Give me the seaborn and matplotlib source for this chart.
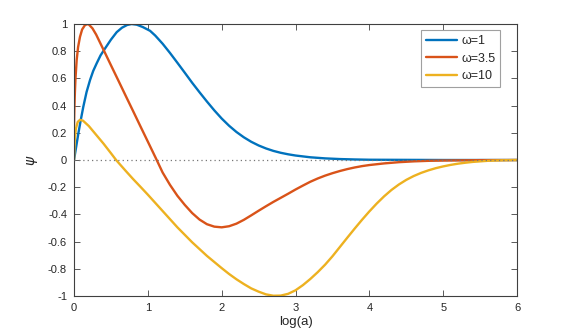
import numpy as np
import pandas as pd
import matplotlib
matplotlib.use("Agg")
import matplotlib.pyplot as plt
import seaborn as sns

# ---- data ----
labels = ["ω=1", "ω=3.5", "ω=10"]
colors = ["#0072BD", "#D95319", "#EDB120"]

x_w1 = [0.0, 0.03, 0.059, 0.09, 0.126, 0.17, 0.217, 0.26, 0.307, 0.36, 0.42, 0.5,
        0.578, 0.65, 0.72, 0.78, 0.85, 0.93, 1.03, 1.1, 1.2, 1.3, 1.4, 1.5, 1.6,
        1.7, 1.8, 1.9, 2.0, 2.1, 2.2, 2.3, 2.4, 2.5, 2.6, 2.7, 2.8, 2.9, 3.0, 3.2,
        3.4, 3.6, 3.8, 4.0, 4.5, 5.0, 6.0]
y_w1 = [0.0, 0.10, 0.196, 0.29, 0.392, 0.50, 0.588, 0.655, 0.711, 0.77, 0.82, 0.885,
        0.94, 0.973, 0.993, 1.0, 0.995, 0.978, 0.95, 0.915, 0.855, 0.787, 0.715, 0.642,
        0.568, 0.498, 0.43, 0.365, 0.305, 0.252, 0.206, 0.167, 0.134, 0.107, 0.085,
        0.067, 0.053, 0.042, 0.033, 0.020, 0.012, 0.007, 0.004, 0.002, 0.001, 0.0, 0.0]

x_w35 = [0.0, 0.005, 0.012, 0.02, 0.036, 0.055, 0.081, 0.11, 0.15, 0.194, 0.25, 0.3,
         0.35, 0.4, 0.5, 0.6, 0.7, 0.8, 0.9, 1.0, 1.12, 1.2, 1.3, 1.4, 1.5, 1.6, 1.7,
         1.8, 1.9, 2.0, 2.1, 2.2, 2.3, 2.4, 2.5, 2.6, 2.7, 2.8, 2.9, 3.0, 3.1, 3.2,
         3.3, 3.4, 3.5, 3.6, 3.7, 3.8, 3.9, 4.0, 4.2, 4.4, 4.6, 4.8, 5.0, 5.5, 6.0]
y_w35 = [0.25, 0.38, 0.50, 0.60, 0.735, 0.83, 0.906, 0.96, 0.993, 1.0, 0.968, 0.922,
         0.866, 0.81, 0.697, 0.585, 0.472, 0.36, 0.247, 0.135, 0.0, -0.092, -0.183,
         -0.263, -0.33, -0.39, -0.438, -0.472, -0.49, -0.495, -0.487, -0.468, -0.44,
         -0.407, -0.373, -0.34, -0.308, -0.278, -0.248, -0.217, -0.188, -0.16, -0.136,
         -0.115, -0.097, -0.081, -0.067, -0.055, -0.045, -0.037, -0.025, -0.016,
         -0.010, -0.006, -0.004, -0.001, 0.0]

x_w10 = [0.0, 0.01, 0.025, 0.05, 0.08, 0.12, 0.2, 0.3, 0.4, 0.5, 0.57, 0.7, 0.8, 0.9,
         1.0, 1.1, 1.2, 1.3, 1.4, 1.5, 1.6, 1.7, 1.8, 1.9, 2.0, 2.1, 2.2, 2.3, 2.4,
         2.5, 2.6, 2.7, 2.8, 2.9, 3.0, 3.1, 3.2, 3.3, 3.4, 3.5, 3.6, 3.7, 3.8, 3.9,
         4.0, 4.1, 4.2, 4.3, 4.4, 4.5, 4.6, 4.7, 4.8, 4.9, 5.0, 5.1, 5.2, 5.3, 5.4,
         5.6, 5.8, 6.0]
y_w10 = [0.0, 0.15, 0.23, 0.28, 0.295, 0.29, 0.25, 0.185, 0.12, 0.05, 0.0, -0.08,
         -0.14, -0.197, -0.255, -0.315, -0.375, -0.435, -0.495, -0.55, -0.605, -0.655,
         -0.705, -0.75, -0.795, -0.838, -0.877, -0.912, -0.944, -0.968, -0.988, -0.998,
         -0.997, -0.984, -0.958, -0.92, -0.875, -0.825, -0.77, -0.708, -0.64, -0.572,
         -0.505, -0.44, -0.378, -0.32, -0.267, -0.22, -0.18, -0.146, -0.118, -0.095,
         -0.076, -0.06, -0.047, -0.036, -0.027, -0.020, -0.014, -0.006, -0.002, 0.0]

x_ticks = [0, 1, 2, 3, 4, 5, 6]
y_ticks = [-1, -0.8, -0.6, -0.4, -0.2, 0, 0.2, 0.4, 0.6, 0.8, 1]
y_ticklabels = ["-1", "-0.8", "-0.6", "-0.4", "-0.2", "0", "0.2", "0.4", "0.6", "0.8", "1"]

df = pd.concat([
    pd.DataFrame({"x": x_w1, "y": y_w1, "series": labels[0]}),
    pd.DataFrame({"x": x_w35, "y": y_w35, "series": labels[1]}),
    pd.DataFrame({"x": x_w10, "y": y_w10, "series": labels[2]}),
], ignore_index=True)

sns.set_theme(style="ticks")
plt.rcParams["font.family"] = ["Liberation Sans", "DejaVu Sans"]

fig = plt.figure(figsize=(5.72, 3.33), dpi=100)
ax = fig.add_axes([0.1294, 0.1111, 0.7745, 0.8168])

sns.lineplot(data=df, x="x", y="y", hue="series", palette=colors,
             hue_order=labels, sort=False, linewidth=1.7, ax=ax, estimator=None)
for ln in ax.get_lines():
    ln.set_solid_joinstyle("round")
    ln.set_solid_capstyle("round")

ax.axhline(0, color="#777777", linestyle=(0, (1, 2.5)), linewidth=0.9, zorder=5)

ax.set_xlim(0, 6)
ax.set_ylim(-1, 1)
ax.set_xticks(x_ticks)
ax.set_xticklabels([str(t) for t in x_ticks])
ax.set_yticks(y_ticks)
ax.set_yticklabels(y_ticklabels)

gray = "#262626"
for sp in ax.spines.values():
    sp.set_visible(True)
    sp.set_color("#404040")
    sp.set_linewidth(0.8)
ax.tick_params(direction="in", length=4, width=0.6, color="#404040",
               labelsize=8, labelcolor=gray, top=True, right=True, pad=5)

ax.set_xlabel("log(a)", fontsize=9.5, color=gray, labelpad=2)
ax.set_ylabel(r"$\psi$", fontsize=10, color=gray, labelpad=6)

leg = ax.legend(loc="upper right", bbox_to_anchor=(0.962, 0.978), borderaxespad=0,
                frameon=True, fancybox=False, framealpha=1, edgecolor="#a0a0a0",
                fontsize=9, handlelength=2.5, handletextpad=0.3, labelspacing=0.45,
                borderpad=0.4, title=None)
leg.get_frame().set_linewidth(0.8)
for t in leg.get_texts():
    t.set_color(gray)

fig.savefig("out.png", dpi=100, facecolor="white")
